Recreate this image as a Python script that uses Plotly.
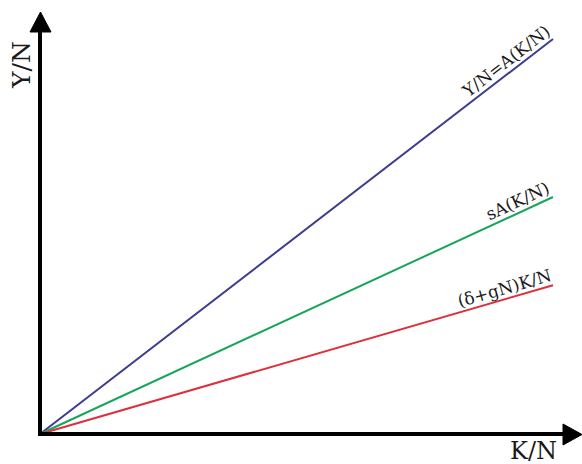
import plotly.graph_objects as go
import math

# Data (K/N on x, per-capita quantities on y)
k_per_n = [0, 10]
A = 0.77
s = 0.6
dep_rate = 0.29  # (delta + gN)

output_line = [A * k for k in k_per_n]
saving_line = [s * A * k for k in k_per_n]
dep_line = [dep_rate * k for k in k_per_n]

series_names = ["Y/N=A(K/N)", "sA(K/N)", "(δ+gN)K/N"]
series_values = [output_line, saving_line, dep_line]
series_colors = ["#3d3d8f", "#17a55a", "#dc313b"]
label_x = [9.22, 9.4, 9.12]

W, H = 582, 464
ox, oy = 40, 434          # origin pixel
ppu = 51.3                 # pixels per unit
xr = [-ox / ppu, (W - ox) / ppu]
yr = [-(H - oy) / ppu, oy / ppu]

def px(xp, yp):
    return ((xp - ox) / ppu, (oy - yp) / ppu)

fig = go.Figure()
for name, vals, col, lx in zip(series_names, series_values, series_colors, label_x):
    fig.add_trace(go.Scatter(x=k_per_n, y=vals, mode="lines",
                             line=dict(color=col, width=2), showlegend=False, hoverinfo="skip"))
    slope = (vals[1] - vals[0]) / (k_per_n[1] - k_per_n[0])
    ang = math.degrees(math.atan(slope))
    d = 11
    fig.add_annotation(x=lx, y=slope * lx, text=name, showarrow=False,
                       textangle=-ang, xanchor="center", yanchor="middle",
                       xshift=-d * math.sin(math.radians(ang)),
                       yshift=d * math.cos(math.radians(ang)),
                       font=dict(family="DejaVu Serif", size=17, color="#1a1a1a"))

# axes with arrows
shapes = []
x0, y0 = px(ox, oy)
x1, y1 = px(ox, 31)
shapes.append(dict(type="line", x0=x0, y0=y0 - 2 / ppu, x1=x1, y1=y1, line=dict(color="black", width=4)))
x2, y2 = px(566, oy)
shapes.append(dict(type="line", x0=x0 - 2 / ppu, y0=y0, x1=x2, y1=y2, line=dict(color="black", width=4)))
# arrowheads
a, b = px(30, 32); c, d_ = px(51, 32); e, f = px(40.5, 12)
shapes.append(dict(type="path", path=f"M{a},{b} L{c},{d_} L{e},{f} Z", fillcolor="black", line=dict(color="black", width=1)))
a, b = px(563, 424); c, d_ = px(563, 445); e, f = px(582, 434.5)
shapes.append(dict(type="path", path=f"M{a},{b} L{c},{d_} L{e},{f} Z", fillcolor="black", line=dict(color="black", width=1)))

fig.add_annotation(x=px(533, 450.5)[0], y=px(533, 450.5)[1], text="K/N", showarrow=False,
                   xanchor="center", yanchor="middle", borderpad=0,
                   font=dict(family="DejaVu Serif", size=24, color="#1a1a1a"))
fig.add_annotation(x=px(21, 65)[0], y=px(21, 65)[1], text="Y/N", showarrow=False, textangle=-90,
                   xanchor="center", yanchor="middle",
                   font=dict(family="DejaVu Serif", size=25, color="#1a1a1a"))

fig.update_layout(width=W, height=H, margin=dict(l=0, r=0, t=0, b=0),
                  paper_bgcolor="white", plot_bgcolor="white", shapes=shapes,
                  xaxis=dict(range=xr, visible=False, fixedrange=True),
                  yaxis=dict(range=yr, visible=False, fixedrange=True))
fig.write_html("out.html", config={"displayModeBar": False},
               post_script="document.body.style.margin='0';document.body.style.overflow='hidden';")
